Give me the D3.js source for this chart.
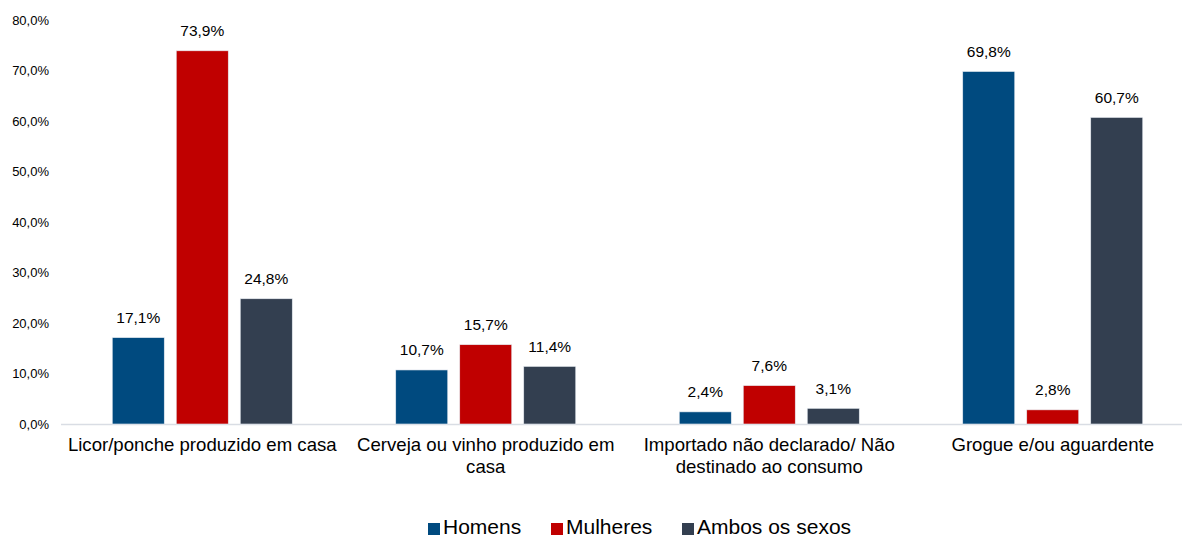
<!DOCTYPE html>
<html><head><meta charset="utf-8">
<script src="https://cdn.jsdelivr.net/npm/d3@7"></script>
<style>body{margin:0;background:#fff;} text{font-family:"Liberation Sans",Arial,sans-serif;fill:#000;}</style>
</head><body><svg id="c" width="1182" height="538"></svg>
<script>
const categories = [["Licor/ponche produzido em casa"],["Cerveja ou vinho produzido em","casa"],["Importado não declarado/ Não","destinado ao consumo"],["Grogue e/ou aguardente"]];
const seriesNames = ["Homens","Mulheres","Ambos os sexos"];
const homens = [17.1,10.7,2.4,69.8];
const mulheres = [73.9,15.7,7.6,2.8];
const ambos = [24.8,11.4,3.1,60.7];
const yTicks = [0,10,20,30,40,50,60,70,80];
const colors = ["#004a7f","#c00000","#333f50"];
const seriesValues = [homens,mulheres,ambos];

const svg = d3.select("#c");
const x = d3.scaleBand().domain(d3.range(categories.length)).range([60.5,1194.5]).padding(0);
const y = d3.scaleLinear().domain([0,80]).range([424,20]);
const xi = d3.scaleBand().domain(d3.range(3)).range([-90,90]).paddingInner(0.1875).paddingOuter(0);
const fmt = v => d3.format(".1f")(v).replace(".",",") + "%";

// y axis labels
svg.append("g").selectAll("text").data(yTicks).join("text")
  .attr("x",49).attr("y",d=>y(d)).attr("dy","0.35em").attr("text-anchor","end")
  .style("font-size","13px").text(d=>fmt(d));

// baseline
svg.append("line").attr("x1",61).attr("x2",1194).attr("y1",y(0)+0.5).attr("y2",y(0)+0.5)
  .attr("stroke","#d9dde4").attr("stroke-width",1.5);

const g = svg.append("g");
seriesValues.forEach((vals,si)=>{
  g.append("g").selectAll("rect").data(vals).join("rect")
    .attr("x",(d,i)=>x(i)+x.bandwidth()/2+xi(si))
    .attr("y",d=>y(d)).attr("width",xi.bandwidth()).attr("height",d=>y(0)-y(d))
    .attr("fill",colors[si]).attr("stroke","#e6ebf0").attr("stroke-width",0.6);
  g.append("g").selectAll("text").data(vals).join("text")
    .attr("x",(d,i)=>x(i)+x.bandwidth()/2+xi(si)+xi.bandwidth()/2)
    .attr("y",d=>y(d)-14.5).attr("text-anchor","middle").style("font-size","15.5px")
    .text(d=>fmt(d));
});

// category labels
categories.forEach((lines,i)=>{
  const t = svg.append("text").attr("x",x(i)+x.bandwidth()/2).attr("y",450.5)
    .attr("text-anchor","middle").style("font-size","18.6px");
  lines.forEach((l,j)=>t.append("tspan").attr("x",x(i)+x.bandwidth()/2).attr("dy",j?22:0).text(l));
});

// legend
const legX = [428,551,682];
seriesNames.forEach((n,i)=>{
  svg.append("rect").attr("x",legX[i]).attr("y",523).attr("width",12).attr("height",12).attr("fill",colors[i]);
  svg.append("text").attr("x",legX[i]+15).attr("y",533.5).style("font-size","21px").text(n);
});
</script></body></html>
